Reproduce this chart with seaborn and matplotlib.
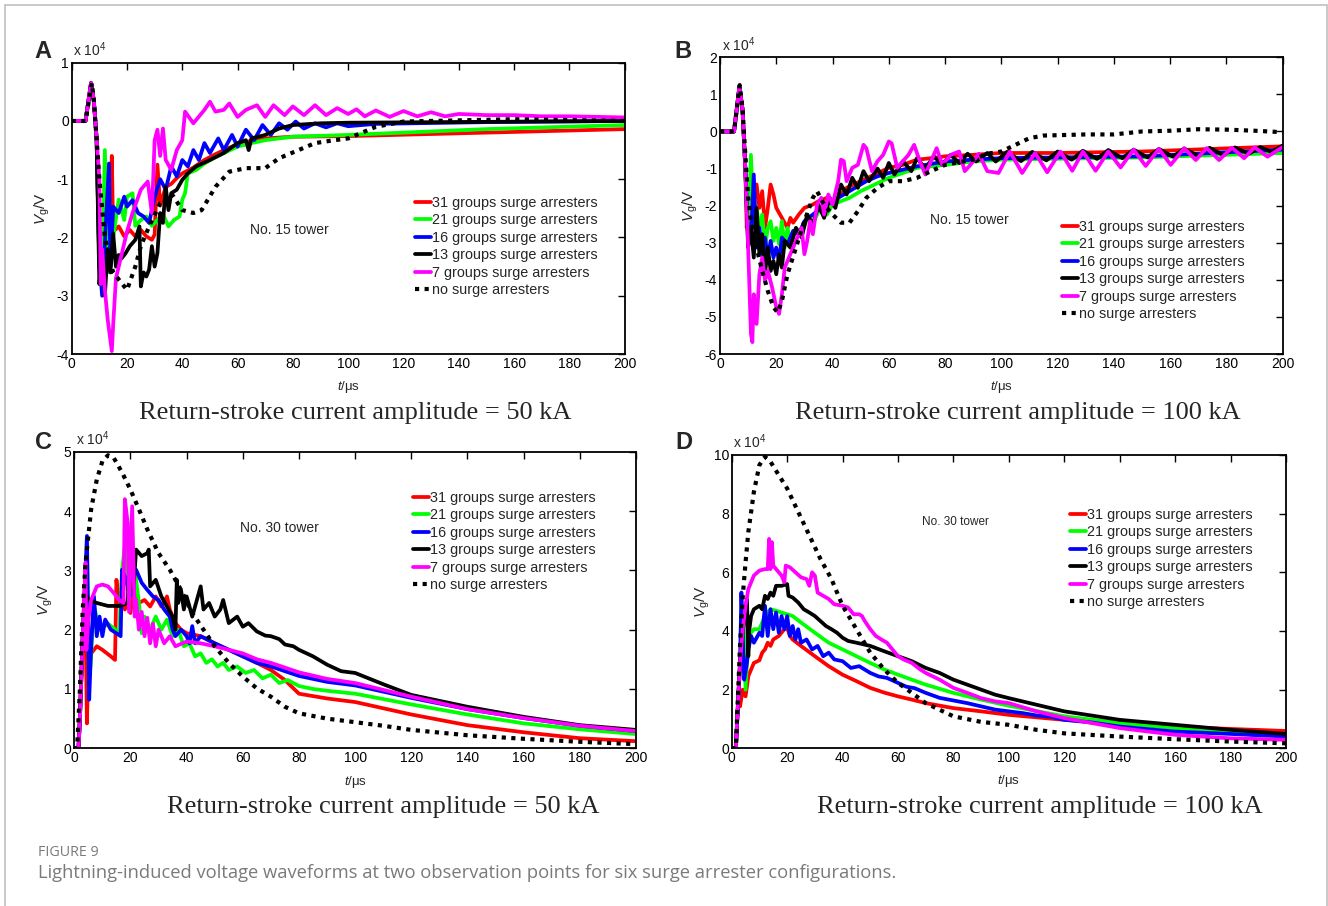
import numpy as np
import pandas as pd
import matplotlib
matplotlib.use("Agg")
import matplotlib.pyplot as plt
from matplotlib.patches import Rectangle
import seaborn as sns

# ---------------- data (values in units of 1e4 V) ----------------
labels = ["31 groups surge arresters", "21 groups surge arresters", "16 groups surge arresters",
          "13 groups surge arresters", "7 groups surge arresters", "no surge arresters"]
colors = ["#FF0000", "#00FF00", "#0000FF", "#000000", "#FF00FF", "#000000"]

# Panel A : No. 15 tower, 50 kA
A_red_t = [0, 5, 7, 8, 9, 10, 10.5, 11, 12, 13, 14, 14.5, 15, 17, 19, 21, 23, 25, 27, 29, 30, 31, 32, 34, 36, 38, 40, 44, 48, 52, 56, 60, 65, 70, 80, 100, 150, 200]
A_red_v = [0, 0, 0.65, 0.35, -0.3, -2.5, -2.7, -2.0, -2.4, -1.9, -2.3, -0.6, -1.9, -1.81, -1.98, -1.87, -1.98, -1.87, -1.98, -2.04, -1.95, -0.75, -1.45, -1.13, -1.08, -0.98, -0.9, -0.8, -0.67, -0.57, -0.48, -0.4, -0.34, -0.3, -0.27, -0.26, -0.2, -0.14]
A_green_t = [0, 5, 7, 8, 9, 10, 11, 12, 13, 14, 15, 17, 19, 20, 22, 23, 25, 27, 29, 31, 33, 35, 37, 39, 40, 41, 42, 45, 48, 52, 56, 60, 65, 70, 80, 100, 150, 200]
A_green_v = [0, 0, 0.65, 0.35, -0.3, -2.5, -2.7, -0.5, -2.6, -1.81, -2.0, -1.35, -1.7, -1.3, -1.24, -1.8, -1.7, -1.64, -1.8, -1.7, -1.6, -1.81, -1.7, -1.64, -1.35, -1.24, -0.9, -0.84, -0.73, -0.62, -0.53, -0.44, -0.38, -0.33, -0.27, -0.24, -0.14, -0.07]
A_blue_t = [0, 5, 7, 8, 9, 10, 11, 13.5, 14, 15, 17, 19, 20, 22, 24, 26, 28, 30, 32, 34, 36, 38, 40, 42, 44, 46, 48, 50, 53, 55, 58, 60, 63, 66, 69, 72, 75, 78, 81, 84, 88, 92, 96, 100, 110, 150, 200]
A_blue_v = [0, 0, 0.65, 0.35, -0.3, -2.4, -3.0, -0.73, -2.5, -1.47, -1.58, -1.3, -1.47, -1.36, -1.58, -1.64, -1.75, -1.3, -1.0, -1.18, -0.78, -0.95, -0.67, -0.78, -0.5, -0.67, -0.38, -0.55, -0.3, -0.5, -0.24, -0.44, -0.15, -0.33, -0.07, -0.24, -0.04, -0.15, -0.01, -0.13, -0.04, -0.11, -0.04, -0.09, -0.05, -0.02, 0.0]
A_black_t = [0, 5, 7, 8, 9, 10, 11, 12, 13, 14, 15, 16, 17, 18, 19.5, 21, 23, 24.5, 25, 26, 27, 28, 29, 30, 31, 32, 33, 34, 35, 36, 38, 40, 42, 45, 50, 55, 60, 63, 64, 65, 70, 75, 80, 90, 100, 200]
A_black_v = [0, 0, 0.65, 0.35, -0.3, -2.8, -2.3, -3.0, -2.2, -2.6, -1.93, -2.5, -2.3, -2.36, -2.27, -2.15, -2.04, -1.81, -2.84, -2.6, -2.67, -2.55, -2.15, -2.5, -2.27, -1.58, -1.75, -1.13, -1.53, -1.24, -1.18, -1.01, -0.9, -0.78, -0.67, -0.55, -0.38, -0.33, -0.5, -0.3, -0.24, -0.13, -0.07, -0.04, -0.03, 0.0]
A_mag_t = [0, 5, 7, 8, 9, 10, 10.5, 11, 12, 13, 14.5, 15, 16, 18, 20, 22, 25, 27.5, 29, 30, 31, 32, 33, 34, 36, 38, 40, 41, 44, 48, 50, 52, 55, 57, 60, 63, 67, 70, 73, 77, 80, 84, 88, 92, 96, 100, 103, 106, 110, 115, 120, 125, 130, 135, 140, 150, 160, 170, 180, 190, 200]
A_mag_v = [0, 0, 0.65, 0.35, -0.3, -1.0, -2.8, -2.2, -2.9, -3.4, -3.95, -3.5, -2.7, -2.3, -1.9, -1.58, -1.18, -1.04, -1.58, -0.33, -0.15, -0.6, -0.13, -0.67, -0.84, -0.5, -0.33, 0.16, -0.04, 0.19, 0.33, 0.16, 0.19, 0.3, 0.07, 0.19, 0.27, 0.07, 0.27, 0.1, 0.25, 0.1, 0.27, 0.1, 0.22, 0.12, 0.2, 0.08, 0.18, 0.07, 0.17, 0.08, 0.15, 0.08, 0.12, 0.1, 0.1, 0.08, 0.08, 0.07, 0.06]
A_none_t = [0, 5, 7.3, 8, 9, 10, 12, 15, 20, 23, 25, 28, 32, 36, 40, 44, 47, 52, 57, 63, 70, 75, 82, 88, 95, 100, 110, 120, 160, 200]
A_none_v = [0, 0, 0.65, 0.35, -0.3, -1.0, -2.0, -2.6, -2.9, -2.5, -2.15, -1.81, -1.41, -1.24, -1.53, -1.58, -1.53, -1.13, -0.87, -0.81, -0.81, -0.64, -0.5, -0.38, -0.33, -0.3, -0.1, -0.01, 0.03, 0.0]

# Panel B : No. 15 tower, 100 kA
B_red_t = [0, 5, 6.9, 8, 9, 9.5, 10, 11, 12, 13, 14, 15, 16, 17, 18, 19, 20, 22, 24, 25, 26, 28, 30, 33, 35, 38, 40, 45, 50, 55, 60, 65, 70, 75, 80, 90, 100, 120, 150, 200]
B_red_v = [0, 0, 1.21, 0.6, -1.0, -2.6, -1.61, -2.24, -1.9, -1.43, -2.06, -1.61, -2.6, -2.06, -1.43, -1.7, -2.06, -2.33, -2.6, -2.33, -2.46, -2.24, -2.06, -1.97, -1.88, -1.79, -1.97, -1.52, -1.34, -1.16, -0.98, -0.9, -0.76, -0.72, -0.67, -0.63, -0.58, -0.58, -0.54, -0.4]
B_green_t = [0, 5, 6.9, 8, 9, 10, 11, 12, 13, 14, 15, 16, 17, 18, 19, 20, 21, 22, 23, 24, 25, 27, 29, 31, 33, 35, 38, 40, 43, 46, 50, 55, 60, 65, 70, 80, 90, 100, 150, 200]
B_green_v = [0, 0, 1.21, 0.6, -1.0, -2.95, -0.63, -2.6, -2.06, -2.6, -2.24, -3.13, -2.6, -2.42, -2.95, -2.6, -3.04, -2.42, -3.13, -2.6, -2.95, -2.6, -2.77, -2.33, -2.5, -2.15, -2.24, -1.97, -1.88, -1.79, -1.61, -1.43, -1.25, -1.12, -0.98, -0.9, -0.81, -0.76, -0.7, -0.58]
B_blue_t = [0, 5, 6.9, 8, 9, 10, 11, 12, 13, 14, 15, 16, 17, 18, 19, 20, 21, 22, 24, 26, 28, 30, 33, 36, 40, 44, 48, 52, 56, 60, 65, 70, 80, 90, 100, 150, 200]
B_blue_v = [0, 0, 1.21, 0.6, -1.0, -2.86, -2.95, -1.16, -3.13, -2.6, -3.31, -2.86, -3.4, -2.95, -3.4, -3.13, -3.49, -2.86, -3.04, -2.68, -2.77, -2.42, -2.24, -2.06, -1.88, -1.7, -1.52, -1.34, -1.21, -1.12, -1.03, -0.94, -0.81, -0.76, -0.72, -0.67, -0.49]
B_black_t = [0, 5, 6.9, 8, 9, 10, 11, 12, 13, 14, 15, 16, 17, 18, 19, 20, 21, 22, 23, 25, 27, 29, 31, 33, 35, 37, 39, 41, 43, 45, 47, 49, 51, 53, 56, 58, 60, 62, 65, 68, 70, 73, 76, 79, 82, 85, 88, 91, 95, 98, 102, 107, 111, 116, 120, 125, 129, 134, 138, 143, 147, 152, 156, 161, 165, 170, 174, 179, 183, 188, 192, 196, 200]
B_black_v = [0, 0, 1.21, 0.6, -1.0, -3.13, -2.6, -3.4, -2.06, -3.31, -2.77, -3.85, -3.13, -3.76, -3.49, -3.85, -3.31, -3.67, -2.95, -3.13, -2.6, -2.86, -2.24, -2.5, -1.97, -2.33, -1.79, -2.06, -1.43, -1.7, -1.25, -1.52, -1.07, -1.34, -1.0, -1.25, -0.85, -1.16, -0.8, -1.07, -0.72, -1.0, -0.67, -0.9, -0.63, -0.85, -0.6, -0.81, -0.58, -0.81, -0.55, -0.8, -0.55, -0.78, -0.54, -0.76, -0.52, -0.74, -0.5, -0.72, -0.49, -0.7, -0.47, -0.68, -0.46, -0.66, -0.44, -0.64, -0.43, -0.6, -0.42, -0.55, -0.38]
B_mag_t = [0, 5, 6.9, 8, 9, 10, 11, 11.5, 12, 13, 14, 15, 16, 17, 18.5, 20, 21, 22, 23, 25, 27, 29, 30, 31, 32, 33, 34.5, 36, 37, 38.5, 40, 42, 43, 44, 45, 47, 49, 51, 52, 54, 56, 58, 60, 61, 63, 65, 67, 69, 71, 73, 75, 77, 79, 82, 85, 87, 89, 92, 95, 99, 103, 107.4, 112, 116.3, 121, 125.2, 129, 133.5, 138, 142.4, 147, 151.3, 156, 160.2, 165, 169.1, 173, 177.4, 182, 186.3, 190, 194.6, 200]
B_mag_v = [0, 0, 1.21, 0.6, -1.0, -3.13, -5.46, -5.68, -4.39, -5.19, -3.85, -3.4, -4.03, -3.76, -4.2, -4.74, -4.92, -4.39, -3.67, -3.31, -2.95, -2.6, -3.31, -2.95, -2.42, -2.77, -1.97, -1.79, -2.24, -1.7, -1.97, -1.34, -0.76, -0.8, -1.34, -0.98, -0.9, -0.36, -0.45, -1.07, -0.8, -0.63, -0.27, -0.32, -0.98, -0.8, -0.63, -0.36, -0.8, -1.16, -0.8, -0.45, -0.9, -0.63, -0.54, -1.07, -0.9, -0.6, -1.07, -1.12, -0.54, -1.12, -0.58, -1.1, -0.54, -1.06, -0.54, -1.06, -0.54, -0.97, -0.49, -0.93, -0.47, -0.9, -0.45, -0.77, -0.45, -0.77, -0.44, -0.72, -0.43, -0.68, -0.42]
B_none_t = [0, 5, 7, 8, 9, 10, 11, 13, 15, 17, 19, 20.5, 22, 24, 27, 30, 33, 34.5, 37, 40, 43, 46, 49, 52, 56, 60, 65, 70, 75, 80, 90, 95, 100, 105, 110, 115, 120, 130, 140, 150, 160, 170, 180, 190, 200]
B_none_v = [0, 0, 1.25, 0.63, -0.63, -1.79, -2.42, -3.13, -3.76, -4.3, -4.74, -4.88, -4.57, -3.85, -3.13, -2.42, -1.79, -1.61, -1.97, -2.24, -2.46, -2.46, -2.15, -1.79, -1.52, -1.34, -1.34, -1.25, -1.07, -0.9, -0.76, -0.6, -0.54, -0.36, -0.18, -0.11, -0.1, -0.08, -0.08, 0.0, 0.02, 0.06, 0.05, 0.02, -0.02]

# Panel C : No. 30 tower, 50 kA
C_red_t = [0, 1.5, 2, 3, 3.8, 4.5, 5, 6, 8, 10, 13, 14.5, 15, 16, 17, 18, 19, 20, 21, 23, 25, 27, 29, 31, 33, 34, 36, 38, 40, 45, 50, 55, 60, 65, 70, 75, 80, 90, 100, 120, 140, 160, 180, 200]
C_red_v = [0, 0, 0.5, 1.89, 2.8, 0.42, 1.44, 1.6, 1.72, 1.66, 1.55, 1.49, 2.84, 2.39, 2.67, 2.34, 2.45, 2.28, 2.67, 2.45, 2.5, 2.39, 2.56, 2.39, 2.56, 2.34, 2.11, 2.0, 1.94, 1.89, 1.77, 1.66, 1.55, 1.44, 1.32, 1.15, 0.92, 0.84, 0.78, 0.57, 0.39, 0.27, 0.17, 0.12]
C_green_t = [0, 1.5, 2, 3, 4.5, 5.5, 7, 9, 12, 16, 17, 18, 19, 20, 21, 22, 23, 24, 25, 27, 29, 31, 33, 35, 37, 39, 41, 43, 45, 47, 49, 51, 53, 55, 58, 61, 64, 67, 70, 73, 76, 80, 85, 90, 100, 120, 140, 160, 180, 200]
C_green_v = [0, 0, 0.5, 1.89, 3.3, 1.2, 2.4, 2.0, 2.1, 1.95, 3.01, 3.4, 2.67, 3.01, 3.13, 2.84, 2.45, 1.94, 2.22, 2.0, 2.22, 2.0, 2.17, 1.89, 2.0, 1.72, 1.77, 1.55, 1.6, 1.44, 1.5, 1.38, 1.44, 1.32, 1.38, 1.27, 1.32, 1.18, 1.24, 1.1, 1.15, 1.05, 1.0, 0.97, 0.92, 0.74, 0.57, 0.42, 0.32, 0.24]
C_blue_t = [0, 1.5, 2, 3, 4.5, 5.3, 6, 7, 8, 9, 10, 11, 13, 15, 16.5, 17, 18, 20, 21, 22, 24, 26, 28, 30, 32, 34, 35, 36, 38, 40, 41, 42, 43, 45, 50, 55, 60, 65, 70, 75, 80, 90, 100, 120, 140, 160, 180, 200]
C_blue_v = [0, 0, 0.5, 1.89, 3.58, 0.82, 1.72, 2.56, 1.89, 2.22, 1.89, 2.17, 2.0, 1.94, 1.89, 3.01, 2.9, 2.56, 3.01, 3.01, 2.79, 2.67, 2.56, 2.5, 2.34, 2.22, 2.0, 1.89, 2.0, 1.89, 1.77, 2.06, 1.77, 1.89, 1.77, 1.66, 1.55, 1.44, 1.38, 1.3, 1.22, 1.12, 1.06, 0.85, 0.66, 0.51, 0.38, 0.29]
C_black_t = [0, 1.5, 2, 3, 4, 5, 8, 12, 16, 19, 20, 21, 22, 24, 26, 26.5, 27, 29, 31, 33, 35, 36, 36.5, 37, 38, 39, 40, 42, 44, 45, 46, 48, 50, 52, 53, 55, 58, 60, 62, 65, 68, 70, 73, 75, 78, 80, 85, 90, 95, 100, 110, 120, 140, 160, 180, 200]
C_black_v = [0, 0, 0.5, 1.89, 2.6, 2.5, 2.45, 2.4, 2.4, 2.45, 3.52, 2.62, 3.35, 3.24, 3.29, 3.35, 2.73, 2.84, 2.56, 2.39, 2.22, 2.0, 2.84, 2.45, 2.67, 2.34, 2.56, 2.22, 2.56, 2.73, 2.34, 2.45, 2.22, 2.34, 2.5, 2.11, 2.22, 2.05, 2.11, 1.97, 1.9, 1.89, 1.84, 1.75, 1.72, 1.66, 1.55, 1.41, 1.3, 1.27, 1.08, 0.9, 0.7, 0.53, 0.39, 0.31]
C_mag_t = [0, 1.5, 2, 3, 4, 4.3, 5, 6, 8, 10, 12, 14, 16, 17.5, 18, 19, 19.5, 20.6, 21.5, 22, 23, 24, 25, 26, 27, 28, 29, 30, 32, 34, 36, 40, 45, 50, 55, 60, 65, 70, 80, 90, 100, 120, 140, 160, 180, 200]
C_mag_v = [0, 0, 0.5, 1.89, 3.13, 1.66, 2.17, 2.5, 2.73, 2.76, 2.73, 2.62, 2.5, 2.45, 4.2, 3.8, 2.3, 4.08, 2.22, 2.5, 2.0, 2.3, 1.89, 2.2, 1.77, 2.1, 1.72, 2.0, 1.77, 1.89, 1.72, 1.8, 1.77, 1.72, 1.66, 1.6, 1.5, 1.44, 1.28, 1.17, 1.1, 0.87, 0.66, 0.51, 0.38, 0.29]
C_none_t = [0, 1, 2, 3, 4, 5, 6, 8, 10, 12, 14, 17, 20, 23, 26, 30, 34, 38, 42, 46, 50, 55, 60, 65, 70, 75, 80, 90, 100, 110, 120, 140, 160, 180, 200]
C_none_v = [0, 0, 0.99, 2.34, 3.13, 3.58, 4.03, 4.53, 4.84, 4.94, 4.9, 4.65, 4.36, 4.03, 3.69, 3.29, 3.01, 2.67, 2.28, 2.0, 1.72, 1.44, 1.21, 1.01, 0.87, 0.7, 0.59, 0.5, 0.44, 0.38, 0.31, 0.22, 0.16, 0.11, 0.07]

# Panel D : No. 30 tower, 100 kA
D_red_t = [0, 1.5, 2, 2.6, 3, 4, 5, 6, 8, 10, 11, 12, 13, 14, 15, 17, 19, 20, 21, 22, 25, 30, 35, 40, 45, 50, 55, 60, 65, 70, 80, 90, 100, 120, 140, 160, 180, 200]
D_red_v = [0, 0, 1.0, 2.2, 1.43, 2.0, 1.77, 2.46, 2.91, 3.0, 3.26, 3.37, 3.6, 3.49, 3.71, 3.83, 4.06, 4.11, 3.83, 3.71, 3.49, 3.14, 2.8, 2.51, 2.29, 2.06, 1.9, 1.77, 1.66, 1.54, 1.37, 1.26, 1.14, 0.97, 0.86, 0.74, 0.66, 0.59]
D_green_t = [0, 1.5, 2, 3, 4.3, 5, 6, 8, 10, 12, 14, 16, 18, 20, 22, 25, 30, 35, 40, 45, 50, 55, 60, 65, 70, 80, 90, 100, 120, 140, 160, 180, 200]
D_green_v = [0, 0, 1.0, 2.9, 4.3, 2.0, 3.83, 4.06, 4.06, 4.51, 4.74, 4.69, 4.63, 4.57, 4.51, 4.29, 3.94, 3.6, 3.37, 3.14, 2.91, 2.69, 2.51, 2.34, 2.17, 1.89, 1.66, 1.45, 1.09, 0.86, 0.69, 0.57, 0.46]
D_blue_t = [0, 1.5, 2, 3, 3.5, 4.5, 5.5, 6, 7, 8, 10, 11, 12, 13, 14, 15, 16, 17, 18, 19, 20, 21, 22, 23, 24, 25, 27, 29, 31, 33, 35, 37, 40, 43, 46, 50, 53, 56, 60, 63, 66, 70, 75, 80, 85, 90, 95, 100, 105, 110, 115, 120, 130, 140, 160, 180, 200]
D_blue_v = [0, 0, 1.0, 2.9, 5.31, 2.34, 2.91, 3.37, 3.83, 3.6, 3.94, 3.83, 4.86, 3.83, 4.74, 4.06, 4.63, 3.94, 4.51, 4.06, 4.51, 3.83, 4.17, 3.71, 4.06, 3.6, 3.71, 3.37, 3.49, 3.14, 3.26, 3.03, 2.97, 2.74, 2.8, 2.57, 2.45, 2.4, 2.23, 2.1, 2.05, 1.89, 1.72, 1.63, 1.54, 1.43, 1.32, 1.26, 1.2, 1.12, 1.08, 0.97, 0.88, 0.74, 0.57, 0.49, 0.4]
D_black_t = [0, 1.5, 2, 3, 4, 5.5, 6, 6.3, 7, 8, 10, 11, 12, 13, 14, 15, 16, 18, 20, 20.5, 22, 24, 26, 28, 30, 32, 34, 36, 38, 40, 42, 45, 50, 55, 60, 65, 70, 75, 80, 85, 90, 95, 100, 120, 140, 160, 180, 200]
D_black_v = [0, 0, 1.0, 2.9, 4.0, 5.09, 3.14, 4.0, 4.51, 4.74, 4.86, 4.74, 5.2, 5.09, 5.31, 5.2, 5.54, 5.54, 5.6, 5.2, 5.14, 4.97, 4.74, 4.63, 4.51, 4.34, 4.17, 4.06, 3.94, 3.77, 3.66, 3.6, 3.49, 3.31, 3.14, 2.97, 2.74, 2.57, 2.34, 2.17, 2.0, 1.83, 1.71, 1.26, 0.97, 0.8, 0.63, 0.49]
D_mag_t = [0, 1.5, 2, 3, 4, 5, 6, 8, 10, 12, 13, 13.5, 14, 14.5, 15, 16, 18, 19, 19.5, 21, 23, 25, 27, 28, 29, 30, 31, 33, 35, 37, 40, 42, 44, 46, 47, 48, 50, 52, 54, 56, 58, 60, 62, 65, 68, 70, 75, 80, 85, 90, 95, 100, 110, 120, 140, 160, 180, 200]
D_mag_v = [0, 0, 1.0, 2.9, 4.06, 4.86, 5.43, 5.89, 6.06, 6.11, 6.11, 7.14, 6.11, 7.03, 6.23, 6.11, 5.89, 5.66, 6.23, 6.17, 6.0, 5.83, 5.77, 5.54, 6.0, 5.89, 5.31, 5.2, 5.09, 4.91, 4.86, 4.8, 4.57, 4.57, 4.51, 4.34, 4.06, 3.83, 3.71, 3.6, 3.37, 3.14, 3.03, 2.91, 2.69, 2.57, 2.34, 2.06, 1.89, 1.71, 1.6, 1.54, 1.26, 1.03, 0.69, 0.46, 0.34, 0.29]
D_none_t = [0, 1.5, 2, 3, 4, 5, 6, 8, 10, 12, 14, 17, 20, 24, 28, 32, 36, 40, 45, 50, 55, 60, 65, 70, 80, 90, 100, 110, 120, 140, 160, 180, 200]
D_none_v = [0, 0, 1.2, 3.49, 5.2, 6.34, 7.37, 8.74, 9.66, 9.94, 9.77, 9.31, 8.86, 8.06, 7.26, 6.46, 5.77, 4.86, 4.06, 3.26, 2.69, 2.23, 1.89, 1.54, 1.09, 0.9, 0.8, 0.63, 0.51, 0.4, 0.31, 0.23, 0.17]

panels = {
    "A": [(A_red_t, A_red_v), (A_green_t, A_green_v), (A_blue_t, A_blue_v), (A_black_t, A_black_v), (A_mag_t, A_mag_v), (A_none_t, A_none_v)],
    "B": [(B_red_t, B_red_v), (B_green_t, B_green_v), (B_blue_t, B_blue_v), (B_black_t, B_black_v), (B_mag_t, B_mag_v), (B_none_t, B_none_v)],
    "C": [(C_red_t, C_red_v), (C_green_t, C_green_v), (C_blue_t, C_blue_v), (C_black_t, C_black_v), (C_mag_t, C_mag_v), (C_none_t, C_none_v)],
    "D": [(D_red_t, D_red_v), (D_green_t, D_green_v), (D_blue_t, D_blue_v), (D_black_t, D_black_v), (D_mag_t, D_mag_v), (D_none_t, D_none_v)],
}
ylims = {"A": (-4, 1), "B": (-6, 2), "C": (0, 5), "D": (0, 10)}
yticks = {"A": [-4, -3, -2, -1, 0, 1], "B": [-6, -5, -4, -3, -2, -1, 0, 1, 2], "C": [0, 1, 2, 3, 4, 5], "D": [0, 2, 4, 6, 8, 10]}
towers = {"A": "No. 15 tower", "B": "No. 15 tower", "C": "No. 30 tower", "D": "No. 30 tower"}
subtitles = {"A": "Return-stroke current amplitude = 50 kA", "B": "Return-stroke current amplitude = 100 kA",
             "C": "Return-stroke current amplitude = 50 kA", "D": "Return-stroke current amplitude = 100 kA"}
xticks = [0, 20, 40, 60, 80, 100, 120, 140, 160, 180, 200]

# ---------------- layout (pixels of a 1328x906 canvas) ----------------
W, H = 1328, 906
axes_px = {"A": (71.7, 62.7, 624.7, 354), "B": (720, 57.3, 1282.7, 354),
           "C": (74.3, 451.7, 636, 748.3), "D": (731.7, 455, 1286, 748.3)}
tower_pos = {"A": (64.5, -1.87, 10), "B": (74.6, -2.39, 10), "C": (59, 3.72, 10), "D": (68.7, 7.72, 8.5)}
legend_px = {"A": (415, 196), "B": (1062, 220), "C": (413, 491), "D": (1070, 508)}
subtitle_px = {"A": (355, 413), "B": (1018, 413), "C": (383, 807), "D": (1040, 807)}
letter_px = {"A": (43, 51), "B": (683, 51), "C": (43, 443), "D": (684, 443)}

sns.set_theme(style="white")
plt.rcParams["font.family"] = ["Liberation Sans", "DejaVu Sans"]
plt.rcParams["axes.unicode_minus"] = False
plt.rcParams["mathtext.fontset"] = "custom"
plt.rcParams["mathtext.it"] = "Liberation Sans:italic"
plt.rcParams["mathtext.rm"] = "Liberation Sans"

fig = plt.figure(figsize=(W / 100, H / 100), dpi=100)
fig.patch.set_facecolor("white")

for key, series in panels.items():
    x0, y0, x1, y1 = axes_px[key]
    ax = fig.add_axes([x0 / W, 1 - y1 / H, (x1 - x0) / W, (y1 - y0) / H])
    handles = []
    for i, (t, v) in enumerate(series):
        df = pd.DataFrame({"t": t, "v": v})
        if i == 5:
            sns.lineplot(data=df, x="t", y="v", ax=ax, color=colors[i], lw=3.0, sort=False,
                         estimator=None, linestyle=(0, (1, 1.3)), dash_capstyle="butt")
        else:
            sns.lineplot(data=df, x="t", y="v", ax=ax, color=colors[i], lw=2.7, sort=False,
                         estimator=None, solid_joinstyle="round")
        line = ax.lines[-1]
        line.set_label(labels[i])
        handles.append(line)
    ax.set_xlim(0, 200)
    ax.set_ylim(*ylims[key])
    ax.set_xticks(xticks)
    ax.set_yticks(yticks[key])
    ax.set_yticklabels([str(v) for v in yticks[key]])
    ax.tick_params(direction="in", length=5, width=1, top=True, right=True, labelsize=10, pad=2,
                   colors="black")
    for s in ax.spines.values():
        s.set_linewidth(1.3)
        s.set_color("black")
    ax.set_xlabel("$t$/μs", fontsize=9.5, labelpad=0)
    ax.xaxis.set_label_coords(0.5, -0.085)
    ax.set_ylabel("$V_\\mathregular{g}$/V", fontsize=11)
    ax.yaxis.set_label_coords(-0.035, 0.5)
    ax.text(0.003, 1.012, "x 10$^\\mathregular{4}$", transform=ax.transAxes, fontsize=10, va="bottom", ha="left")
    tx, ty, tfs = tower_pos[key]
    ax.text(tx, ty, towers[key], fontsize=tfs, va="center", ha="left")
    lx, ly = legend_px[key]
    leg = ax.legend(handles=handles, loc="upper left", bbox_to_anchor=(lx / W, 1 - ly / H),
                    bbox_transform=fig.transFigure, frameon=False, fontsize=10.4, handlelength=1.1,
                    handletextpad=0.1, labelspacing=0.24, borderpad=0, borderaxespad=0)
    sx, sy = subtitle_px[key]
    fig.text(sx / W, 1 - sy / H, subtitles[key], fontsize=19, family="Liberation Serif",
             ha="center", va="center")
    px, py = letter_px[key]
    fig.text(px / W, 1 - py / H, key, fontsize=17, fontweight="bold", ha="center", va="center")

fig.text(38 / W, 1 - 853 / H, "FIGURE 9", fontsize=10.3, color="#7a7a7a", family="Open Sans",
         ha="left", va="center")
fig.text(38 / W, 1 - 873 / H,
         "Lightning-induced voltage waveforms at two observation points for six surge arrester configurations.",
         fontsize=13.2, color="#7a7a7a", family="Open Sans", ha="left", va="center")

fig.patches.append(Rectangle((4.5 / W, -0.05), (1327 - 4.5) / W, 1.05 - 5 / H, transform=fig.transFigure,
                             fill=False, edgecolor="#c0c0c0", lw=1.2))

fig.savefig("out.png", dpi=100, facecolor="white")
